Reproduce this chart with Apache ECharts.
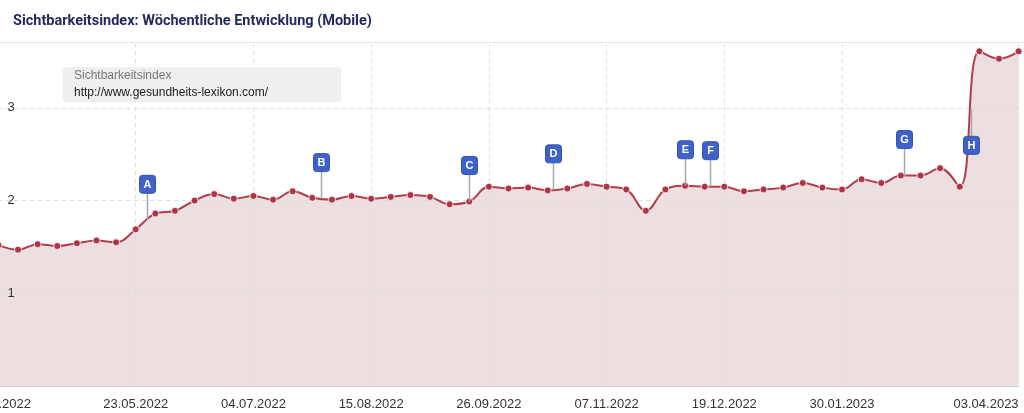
<!DOCTYPE html>
<html>
<head>
<meta charset="utf-8">
<script src="https://cdn.jsdelivr.net/npm/echarts@6/dist/echarts.min.js"></script>
<style>
html,body{margin:0;padding:0;background:#fff;overflow:hidden;width:1024px;height:413px;}
#c{position:absolute;left:-40px;top:0;width:1064px;height:413px;}
</style>
</head>
<body>
<div id="c"></div>
<script>
// ---- data ----
const weeks = ['04.04.2022','11.04.2022','18.04.2022','25.04.2022','02.05.2022','09.05.2022','16.05.2022','23.05.2022','30.05.2022','06.06.2022','13.06.2022','20.06.2022','27.06.2022','04.07.2022','11.07.2022','18.07.2022','25.07.2022','01.08.2022','08.08.2022','15.08.2022','22.08.2022','29.08.2022','05.09.2022','12.09.2022','19.09.2022','26.09.2022','03.10.2022','10.10.2022','17.10.2022','24.10.2022','31.10.2022','07.11.2022','14.11.2022','21.11.2022','28.11.2022','05.12.2022','12.12.2022','19.12.2022','26.12.2022','02.01.2023','09.01.2023','16.01.2023','23.01.2023','30.01.2023','06.02.2023','13.02.2023','20.02.2023','27.02.2023','06.03.2023','13.03.2023','20.03.2023','27.03.2023','03.04.2023'];
const visibility = [1.52,1.47,1.53,1.51,1.54,1.57,1.55,1.69,1.86,1.89,2.00,2.07,2.02,2.05,2.01,2.10,2.03,2.01,2.05,2.02,2.04,2.06,2.04,1.96,1.99,2.15,2.13,2.14,2.11,2.13,2.18,2.15,2.12,1.89,2.12,2.16,2.15,2.15,2.10,2.12,2.14,2.19,2.14,2.12,2.23,2.19,2.27,2.27,2.35,2.15,3.61,3.53,3.61];
const xTickLabels = ['04.04.2022','23.05.2022','04.07.2022','15.08.2022','26.09.2022','07.11.2022','19.12.2022','30.01.2023','03.04.2023'];
const yTicks = [1,2,3];
const eventLetters = ['A','B','C','D','E','F','G','H'];
const eventDates = ['27.05.2022','28.07.2022','19.09.2022','19.10.2022','05.12.2022','14.12.2022','21.02.2023','17.03.2023'];
const seriesName = 'Sichtbarkeitsindex';
const domain = 'http://www.gesundheits-lexikon.com/';
const titleText = 'Sichtbarkeitsindex: Wöchentliche Entwicklung (Mobile)';

// ---- style ----
const OFF = 40;               // container shifted left (chart cropped at the left edge)
const flagsBelow = ['H'];     // flags drawn under the line
const C = {line:'#b23d4c', dot:'#ad3545', fill:'#ecdfe0', flag:'#3f62c8', flagBorder:'#3453b3', stem:'#a8a8a8', grid:'#dcdcdc'};

function parseD(s){const p=s.split('.');return Date.UTC(+p[2],+p[1]-1,+p[0]);}
const t0 = parseD(weeks[0]);
const WEEK = 7*86400000;
const tickIdx = xTickLabels.map(l => weeks.indexOf(l));
function valueAt(fi){
  const i = Math.floor(fi), f = fi - i;
  if (i >= visibility.length-1) return visibility[visibility.length-1];
  return visibility[i] + (visibility[i+1]-visibility[i])*f;
}
const flagData = eventDates.map((d,k) => {
  const fi = (parseD(d)-t0)/WEEK;
  return [fi, valueAt(fi)];
});

const chart = echarts.init(document.getElementById('c'), null, {renderer:'canvas'});
const option = {
  animation:false,
  title:{text:titleText,left:OFF+8,top:9,
    textStyle:{fontFamily:'Roboto',fontSize:14.5,fontWeight:'bold',color:'#1f2b5b'}},
  grid:{left:OFF-1.6,right:5.4,top:43,bottom:27,containLabel:false},
  xAxis:[{
    type:'category',data:weeks,boundaryGap:false,z:2,
    axisLine:{show:true,lineStyle:{color:'#d0d0d0'}},
    axisTick:{show:false},
    axisLabel:{interval:(i)=>tickIdx.includes(i),margin:12,color:'#333',fontSize:13,
      fontFamily:'Liberation Sans',alignMaxLabel:'right',showMaxLabel:true,showMinLabel:true},
    splitLine:{show:true,interval:(i)=>tickIdx.includes(i),lineStyle:{color:C.grid,type:[4,4],width:1}}
  },{
    type:'value',min:0,max:weeks.length-1,show:false,splitLine:{show:false}
  }],
  yAxis:{
    type:'value',min:0,max:3.7,interval:1,z:2,
    axisLine:{show:false},axisTick:{show:false},
    axisLabel:{inside:true,margin:9,color:'#333',fontSize:13,fontFamily:'Liberation Sans',
      showMinLabel:false,showMaxLabel:false,
      formatter:(v)=>yTicks.includes(v)?String(v):''},
    splitLine:{show:true,lineStyle:{color:C.grid,type:[4,4],width:1}}
  },
  series:[{
    name:seriesName+'-area',type:'line',data:visibility,smooth:0.4,
    symbol:'none',lineStyle:{width:0,opacity:0},
    areaStyle:{color:C.fill,opacity:1},silent:true,
    z:1
  },{
    name:seriesName,type:'line',data:visibility,smooth:0.4,
    symbol:'circle',symbolSize:7,showAllSymbol:true,
    lineStyle:{color:C.line,width:2},
    itemStyle:{color:C.dot,borderColor:'#ffffff',borderWidth:0.8},
    z:4
  },{
    type:'custom',xAxisIndex:1,yAxisIndex:0,data:flagData,z:5,clip:false,
    renderItem:function(params,api){
      const letter = eventLetters[params.dataIndex];
      const p = api.coord([api.value(0),api.value(1)]);
      const w=16,h=18,gap=27;
      const below = flagsBelow.includes(letter);
      const boxTop = below ? p[1]+gap : p[1]-gap-h;
      const stemEnd = below ? p[1]+gap : p[1]-gap;
      const cx = Math.round(p[0])+0.5;
      return {type:'group',children:[
        {type:'line',shape:{x1:cx,y1:p[1],x2:cx,y2:stemEnd},style:{stroke:C.stem,lineWidth:1.5}},
        {type:'rect',shape:{x:cx-w/2,y:boxTop,width:w,height:h,r:3},
          style:{fill:C.flag,stroke:C.flagBorder,lineWidth:1}},
        {type:'text',style:{text:letter,x:cx,y:boxTop+h/2+0.5,align:'center',verticalAlign:'middle',
          fill:'#fff',font:'bold 11px "Liberation Sans", Arial, sans-serif'}}
      ]};
    }
  }],
  graphic:[
    {type:'rect',shape:{x:OFF,y:41,width:1024,height:3},style:{fill:'#ffffff'},z:10},
    {type:'line',shape:{x1:OFF,y1:42.5,x2:OFF+1024,y2:42.5},style:{stroke:'#e6e6e6',lineWidth:1},z:11},
    {type:'rect',shape:{x:OFF+63,y:67,width:278,height:35,r:4},style:{fill:'#efefef'},z:10},
    {type:'text',style:{text:seriesName,x:OFF+74,y:76,verticalAlign:'middle',fill:'#777',
      font:'12px "Liberation Sans", Arial, sans-serif'},z:11},
    {type:'text',style:{text:domain,x:OFF+74,y:93,verticalAlign:'middle',fill:'#222',
      font:'12px "Liberation Sans", Arial, sans-serif'},z:11}
  ]
};
chart.setOption(option);
</script>
</body>
</html>
